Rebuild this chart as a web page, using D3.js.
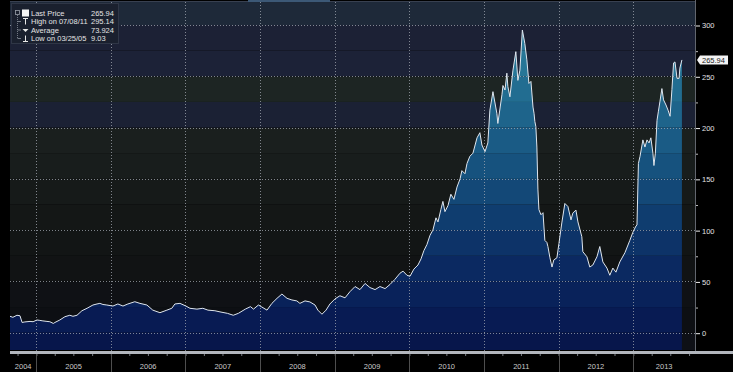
<!DOCTYPE html>
<html>
<head>
<meta charset="utf-8">
<script src="https://cdn.jsdelivr.net/npm/d3@7"></script>
<style>
  body { margin: 0; background: #000; }
  svg { display: block; }
  text { font-family: "Liberation Sans", Arial, sans-serif; }
</style>
</head>
<body>
<svg></svg>
<script>
//price history
let dates = [
  "2004-08-25","2004-09-08","2004-09-28","2004-10-13","2004-10-23","2004-11-06","2004-12-01","2004-12-16",
  "2005-01-04","2005-01-18","2005-02-02","2005-02-22","2005-03-08","2005-03-25","2005-04-02","2005-04-26",
  "2005-05-21","2005-06-14","2005-06-29","2005-07-19","2005-08-12","2005-09-06","2005-10-05","2005-10-25",
  "2005-11-08","2005-11-23","2005-12-12",
  "2006-01-11","2006-02-04","2006-03-01","2006-03-25","2006-04-28","2006-05-23","2006-06-26","2006-07-25",
  "2006-08-29","2006-10-02","2006-10-26","2006-11-10","2006-12-05",
  "2007-01-03","2007-01-23","2007-02-26","2007-03-27","2007-04-21","2007-05-25","2007-06-19","2007-07-25",
  "2007-08-23","2007-09-17","2007-10-21","2007-11-15","2007-11-30","2007-12-24",
  "2008-01-10","2008-02-04","2008-02-28","2008-03-24","2008-04-17","2008-05-12","2008-06-05","2008-06-29",
  "2008-07-14","2008-08-08","2008-09-01","2008-09-26","2008-10-10","2008-10-30","2008-11-19","2008-12-08",
  "2009-01-02","2009-01-26","2009-02-20","2009-03-16","2009-04-10","2009-05-04","2009-05-29","2009-06-22",
  "2009-07-17","2009-08-10","2009-09-04","2009-09-28","2009-10-22","2009-11-16","2009-12-01","2009-12-20",
  "2010-01-04","2010-01-23","2010-02-12","2010-02-27","2010-03-13","2010-03-28","2010-04-12","2010-04-26",
  "2010-05-11","2010-05-21","2010-06-04","2010-06-14","2010-06-24","2010-07-09","2010-07-23","2010-08-07",
  "2010-08-22","2010-09-06","2010-09-15","2010-09-30","2010-10-10","2010-10-24","2010-11-08","2010-11-28",
  "2010-12-12","2010-12-22",
  "2011-01-06","2011-01-20","2011-01-30","2011-02-14","2011-03-05","2011-03-10","2011-03-30","2011-04-04",
  "2011-04-14","2011-04-23","2011-04-28","2011-05-08","2011-05-23","2011-06-06","2011-06-16","2011-06-26",
  "2011-07-08","2011-07-20","2011-07-30","2011-08-09","2011-08-19","2011-08-29","2011-09-03","2011-09-07",
  "2011-09-12","2011-09-17","2011-09-22","2011-09-27","2011-10-07","2011-10-17","2011-10-26","2011-11-05",
  "2011-11-10","2011-11-20","2011-11-30","2011-12-09","2011-12-24",
  "2012-01-03","2012-01-17","2012-02-01","2012-02-16","2012-03-02","2012-03-11","2012-03-26","2012-04-05",
  "2012-04-24","2012-04-29","2012-05-19","2012-06-02","2012-06-17","2012-07-07","2012-07-21","2012-08-05",
  "2012-08-25","2012-09-08","2012-09-23","2012-10-08","2012-10-27","2012-11-21","2012-12-15","2012-12-30",
  "2013-01-14","2013-01-19","2013-01-26","2013-02-03","2013-02-17","2013-02-27","2013-03-09","2013-03-19",
  "2013-03-28","2013-04-07","2013-04-12","2013-04-19","2013-04-27","2013-05-04","2013-05-11","2013-05-21",
  "2013-05-29","2013-06-10","2013-06-20","2013-06-30","2013-07-09","2013-07-17","2013-07-24","2013-08-03",
  "2013-08-13","2013-08-17","2013-08-27"
];
let prices = [
  16,15,17,16.5,10,10.5,11,10.7,
  12.4,12,11.5,11,10.7,9.03,10,12.4,
  15.6,17,16,17,21.4,23.8,27,28,
  28.6,27.5,27,
  26,28,26,28,30.2,28.6,27,22,
  19.5,22,23.8,28,28.6,
  26,23.8,23,23.8,22,21.4,20.3,18.9,
  17,18.9,23,25.4,23,27,
  25,22,28.6,33.5,37.7,33.5,31.9,31,
  28.6,31,30,27,22,18,22,28,
  33,36,34,40,45,42,48,44,
  42,45,43,47,52,58,60,56,
  55,62,66,72,80,86,95,100,
  112,108,120,128,118,124,135,130,
  142,150,158,155,165,172,175,190,
  195,183,
  176.5,185,217,235,214,204,232,241,
  236.6,253,240,230,256,274,246,256,
  295.14,282,266,243,245,220,214,206,
  201,181,140,120,115,117,90,88,
  84,73,64,71,73,
  87,107,126,123,110,116.6,119.6,108,
  93.6,79,74,64,66,74,84,69,
  63,56,63,59,69,78,90,98,
  104,105,165,172,188,181,188,185,
  190,175,163,175,207,216,225,238,
  227,222,217,211,237,263,264,248,
  248,258,265.94
];

let yTicks = [0, 50, 100, 150, 200, 250, 300];
let yMinorTicks = [25, 75, 125, 175, 225, 275];
let years = [2004, 2005, 2006, 2007, 2008, 2009, 2010, 2011, 2012, 2013];

//25-wide bands from -25 up to 325
let bgColors = ["#0e1016","#0d0f13","#0f1115","#111314","#121515","#141716","#161a19",
                "#181d1c","#1a1f1e","#1b2134","#1d2523","#1c2237","#1c2135","#1e2939"];
let fillColors = ["#07164b","#081b53","#09225a","#0b2961","#0d3368","#0f3d6f","#134877",
                  "#16527e","#1a5b85","#1e648b","#226d91","#277697","#2a7b9c","#2d80a1"];

let legendLabels = ["Last Price", "High on 07/08/11", "Average", "Low on 03/25/05"];
let legendValues = ["265.94", "295.14", "73.924", "9.03"];
let lastPrice = 265.94;

let data = dates.map((d, i) => ({ date: new Date(d + "T00:00:00"), v: prices[i] }));

//svg
let svg = d3.select("svg").attr("width", 733).attr("height", 372);

let plotL = 10, plotR = 695, plotT = 2, plotB = 350;
let fontSize = "7.5px";

let x = d3.scaleTime()
  .domain([new Date(2004, 7, 25), new Date(2013, 9, 30)])
  .range([plotL, plotR]);
let y = d3.scaleLinear().domain([0, 300]).range([332.7, 25]);

let bands = bgColors.map((c, i) => ({ lo: -25 + i * 25, hi: i * 25, bg: c, fill: fillColors[i] }));

let area = d3.area()
  .x(d => x(d.date))
  .y0(plotB)
  .y1(d => y(d.v));
let line = d3.line()
  .x(d => x(d.date))
  .y(d => y(d.v));

let defs = svg.append("defs");
defs.append("clipPath").attr("id", "plotClip")
  .append("rect")
  .attr("x", plotL).attr("y", plotT)
  .attr("width", plotR - plotL).attr("height", plotB - plotT);
defs.append("clipPath").attr("id", "areaClip")
  .append("path").attr("d", area(data));

//background bands
svg.append("g").attr("clip-path", "url(#plotClip)")
  .selectAll("rect").data(bands).join("rect")
  .attr("x", plotL).attr("width", plotR - plotL)
  .attr("y", d => y(d.hi)).attr("height", d => y(d.lo) - y(d.hi))
  .attr("fill", d => d.bg);

//area fill, banded the same way
svg.append("g").attr("clip-path", "url(#plotClip)")
  .append("g").attr("clip-path", "url(#areaClip)")
  .selectAll("rect").data(bands).join("rect")
  .attr("x", plotL).attr("width", plotR - plotL)
  .attr("y", d => y(d.hi)).attr("height", d => y(d.lo) - y(d.hi))
  .attr("fill", d => d.fill);

//grid
let grid = svg.append("g")
  .attr("stroke", "#a4aab3")
  .attr("stroke-dasharray", "1,2")
  .attr("stroke-opacity", 0.75);
grid.selectAll(".h").data(yTicks).join("line")
  .attr("x1", plotL).attr("x2", plotR)
  .attr("y1", d => Math.round(y(d)) + 0.5).attr("y2", d => Math.round(y(d)) + 0.5);
grid.selectAll(".v").data(years.slice(1)).join("line")
  .attr("x1", d => Math.round(x(new Date(d, 0, 1))) + 0.5)
  .attr("x2", d => Math.round(x(new Date(d, 0, 1))) + 0.5)
  .attr("y1", plotT).attr("y2", plotB + 1);

//price line
svg.append("path")
  .datum(data)
  .attr("d", line)
  .attr("fill", "none")
  .attr("stroke", "#dfe6ee")
  .attr("stroke-width", 1)
  .attr("stroke-linejoin", "round");

//top edge
svg.append("line")
  .attr("x1", plotL).attr("x2", plotR)
  .attr("y1", 1.5).attr("y2", 1.5)
  .attr("stroke", "#384050");
svg.append("rect")
  .attr("x", 248).attr("y", 0)
  .attr("width", 82).attr("height", 2)
  .attr("fill", "#3c5876");

//right axis
svg.append("line")
  .attr("x1", plotR + 0.5).attr("x2", plotR + 0.5)
  .attr("y1", 0).attr("y2", plotB + 2)
  .attr("stroke", "#62666e");

let gy = svg.append("g")
  .attr("transform", `translate(${plotR + 1},0.5)`)
  .call(d3.axisRight(y).tickValues(yTicks).tickSize(4).tickPadding(2));
gy.select(".domain").remove();
gy.selectAll("line").attr("stroke", "#f0f0f0");
gy.selectAll("text")
  .attr("fill", "#e2e2e2")
  .style("font-size", fontSize);

let gyMinor = svg.append("g")
  .attr("transform", `translate(${plotR + 1},0.5)`)
  .call(d3.axisRight(y).tickValues(yMinorTicks).tickSize(2).tickFormat(""));
gyMinor.select(".domain").remove();
gyMinor.selectAll("line").attr("stroke", "#bbbbbb");

//last price tag
let ly = y(lastPrice);
let tag = svg.append("g").attr("transform", `translate(${plotR + 2},${ly})`);
tag.append("path")
  .attr("d", "M0,0 L3,-4.5 L31,-4.5 L31,4.5 L3,4.5 Z")
  .attr("fill", "#f4f4f4");
tag.append("text")
  .attr("x", 5).attr("y", 2.8)
  .attr("fill", "#1a1a1a")
  .style("font-size", fontSize)
  .text(d3.format(".2f")(lastPrice));

//bottom axis bar
svg.append("rect")
  .attr("x", plotL).attr("y", 351)
  .attr("width", 733 - plotL).attr("height", 3)
  .attr("fill", "#b2b6bd");

let gx = svg.append("g")
  .attr("transform", "translate(0,354)")
  .call(d3.axisBottom(x).ticks(d3.timeMonth.every(3)).tickSize(2).tickFormat(""));
gx.select(".domain").remove();
gx.selectAll("line").attr("stroke", "#7a7e86");

//year separators and labels
svg.append("g").selectAll("line").data(years.slice(1)).join("line")
  .attr("x1", d => Math.round(x(new Date(d, 0, 1))) + 0.5)
  .attr("x2", d => Math.round(x(new Date(d, 0, 1))) + 0.5)
  .attr("y1", 354).attr("y2", 372)
  .attr("stroke", "#4e4e4e");

svg.append("g").selectAll("text").data(years).join("text")
  .attr("x", d => (Math.max(x(new Date(d, 0, 1)), plotL) + Math.min(x(new Date(d + 1, 0, 1)), plotR)) / 2)
  .attr("y", 369)
  .attr("text-anchor", "middle")
  .attr("fill", "#c9c9c9")
  .style("font-size", fontSize)
  .text(d => d);

//legend
let legend = svg.append("g");
legend.append("rect")
  .attr("x", 11.5).attr("y", 3.5)
  .attr("width", 107).attr("height", 40)
  .attr("fill", "#1a202e")
  .attr("stroke", "#2f3646");

let rowY = [13, 21.5, 30, 38.5];

//tree lines
legend.append("rect")
  .attr("x", 15.5).attr("y", rowY[0] - 2.5).attr("width", 4).attr("height", 4)
  .attr("fill", "none").attr("stroke", "#9aa0aa").attr("stroke-width", 0.8);
legend.append("line")
  .attr("x1", 17.5).attr("x2", 17.5).attr("y1", rowY[0] + 2).attr("y2", rowY[3])
  .attr("stroke", "#8a909a").attr("stroke-width", 0.8).attr("stroke-dasharray", "1,1");
legend.selectAll(".stub").data(rowY.slice(1)).join("line")
  .attr("x1", 17.5).attr("x2", 21).attr("y1", d => d).attr("y2", d => d)
  .attr("stroke", "#8a909a").attr("stroke-width", 0.8);

//icons
legend.append("rect")
  .attr("x", 22).attr("y", rowY[0] - 3.5).attr("width", 7).attr("height", 7)
  .attr("fill", "#f4f4f4");
legend.append("path")
  .attr("d", `M23,${rowY[1] - 3} H28 M25.5,${rowY[1] - 3} V${rowY[1] + 3}`)
  .attr("stroke", "#e8e8e8").attr("stroke-width", 1);
legend.append("path")
  .attr("d", `M22.5,${rowY[2] - 1} H28.5 L25.5,${rowY[2] + 2} Z`)
  .attr("fill", "#e8e8e8");
legend.append("path")
  .attr("d", `M25.5,${rowY[3] - 3} V${rowY[3] + 3} M23,${rowY[3] + 3} H28`)
  .attr("stroke", "#e8e8e8").attr("stroke-width", 1);

legend.selectAll(".lab").data(legendLabels).join("text")
  .attr("x", 31).attr("y", (d, i) => rowY[i] + 2.7)
  .attr("fill", "#e4e4e4")
  .style("font-size", fontSize)
  .text(d => d);
legend.selectAll(".val").data(legendValues).join("text")
  .attr("x", 91).attr("y", (d, i) => rowY[i] + 2.7)
  .attr("fill", "#e4e4e4")
  .style("font-size", fontSize)
  .text(d => d);
</script>
</body>
</html>
